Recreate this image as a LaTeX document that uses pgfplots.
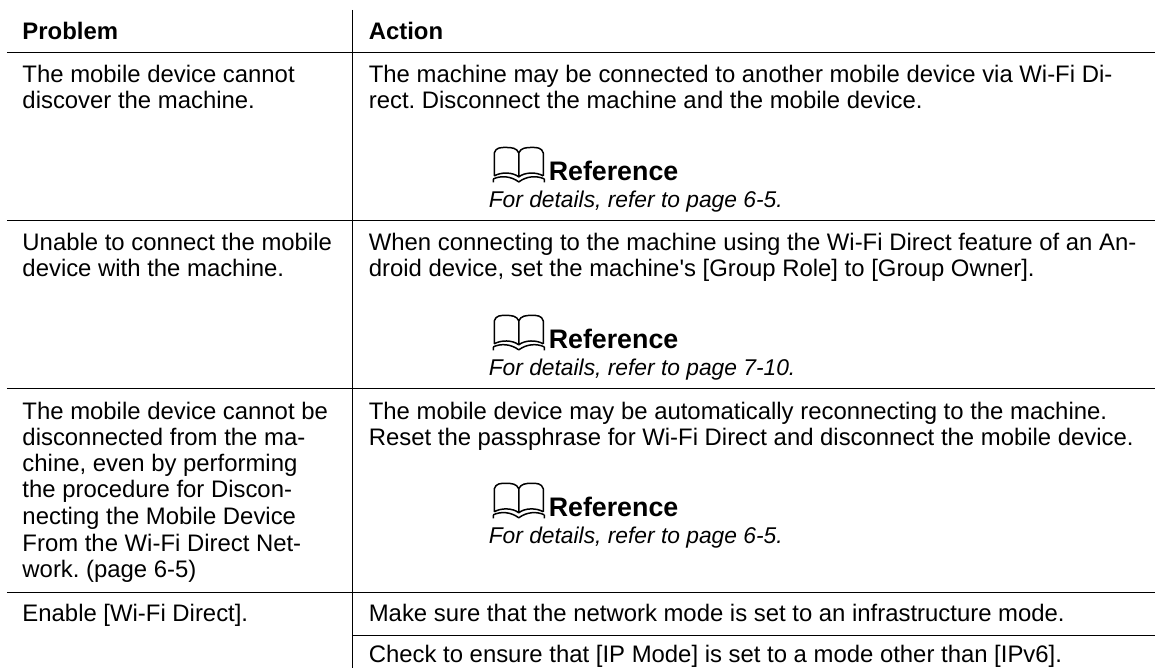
\documentclass[border=0pt]{standalone}
\usepackage{pgfplots}
\pgfplotsset{compat=1.18}
\usepackage{fontspec}
\setmainfont[Ligatures=TeXOff]{Liberation Sans}
\frenchspacing
\newcommand{\T}[3]{\node[anchor=base west,inner sep=0pt,outer sep=0pt] at (axis cs:#1,#2) {#3};}
\newcommand{\book}[2]{%
 \draw[line width=1.5bp,shift={(axis cs:#1,#2)},x=1bp,y=-1bp,line join=round]
  (1.5,30) -- (1.5,7) .. controls (3,1.5) and (8,1.5) .. (13,1.5) .. controls (19,1.5) and (24,2) .. (26,7)
  .. controls (28,2) and (33,1.5) .. (39,1.5) .. controls (44,1.5) and (49,1.5) .. (50.5,7) -- (50.5,30)
  (26,7) -- (26,31)
  (1.5,30) .. controls (8,26) and (20,26) .. (26,31) .. controls (32,26) and (44,26) .. (50.5,30)
  (0.5,33) .. controls (8,29.5) and (18,30) .. (26,36) .. controls (34,30) and (44,29.5) .. (51.5,33)
  (0.5,36.5) -- (0.5,33) (51.5,36.5) -- (51.5,33);}
\newcommand{\RefWord}{\fontsize{26.8bp}{28bp}\selectfont\bfseries Reference}
\newcommand{\Det}[1]{\fontsize{22.8bp}{26bp}\selectfont\itshape For details, refer to page #1.}
\begin{document}
\begin{tikzpicture}[font=\fontsize{23.9bp}{26.4bp}\selectfont]
\begin{axis}[width=1155bp,height=668bp,scale only axis,xmin=0,xmax=1155,ymin=0,ymax=668,
  y dir=reverse,hide axis,clip=false]
\addplot[draw=none] coordinates {(0,0) (1155,668)};
\addplot[black,line width=1bp] coordinates {(353,10) (353,668)};
\addplot[black,line width=1bp] coordinates {(7,53) (1155,53)};
\addplot[black,line width=1bp] coordinates {(7,221) (1155,221)};
\addplot[black,line width=1bp] coordinates {(7,389) (1155,389)};
\addplot[black,line width=1bp] coordinates {(7,592.3) (1155,592.3)};
\addplot[black,line width=1bp] coordinates {(353,636) (1155,636)};
\T{22.5}{40}{\bfseries Problem}
\T{369}{40}{\bfseries Action}
\T{22.5}{83}{The mobile device cannot}
\T{22.5}{109}{discover the machine.}
\T{369}{83}{The machine may be connected to another mobile device via Wi-Fi Di-}
\T{369}{109}{rect. Disconnect the machine and the mobile device.}
\book{493}{146}
\T{549}{181}{\RefWord}
\T{489}{207.7}{\Det{6-5}}
\T{22.5}{251}{Unable to connect the mobile}
\T{22.5}{277}{device with the machine.}
\T{369}{251}{When connecting to the machine using the Wi-Fi Direct feature of an An-}
\T{369}{277}{droid device, set the machine's [Group Role] to [Group Owner].}
\book{493}{314}
\T{549}{349}{\RefWord}
\T{489}{375.7}{\Det{7-10}}
\T{22.5}{419.3}{The mobile device cannot be}
\T{22.5}{446}{disconnected from the ma-}
\T{22.5}{472}{chine, even by performing}
\T{22.5}{498}{the procedure for Discon-}
\T{22.5}{525}{necting the Mobile Device}
\T{22.5}{551.5}{From the Wi-Fi Direct Net-}
\T{22.5}{578}{work. (page 6-5)}
\T{369}{419.3}{The mobile device may be automatically reconnecting to the machine.}
\T{369}{446}{Reset the passphrase for Wi-Fi Direct and disconnect the mobile device.}
\book{493}{482}
\T{549}{517}{\RefWord}
\T{489}{543.7}{\Det{6-5}}
\T{22.5}{621.7}{Enable [Wi-Fi Direct].}
\T{369}{621.7}{Make sure that the network mode is set to an infrastructure mode.}
\T{369}{663}{Check to ensure that [IP Mode] is set to a mode other than [IPv6].}
\end{axis}
\end{tikzpicture}
\end{document}
